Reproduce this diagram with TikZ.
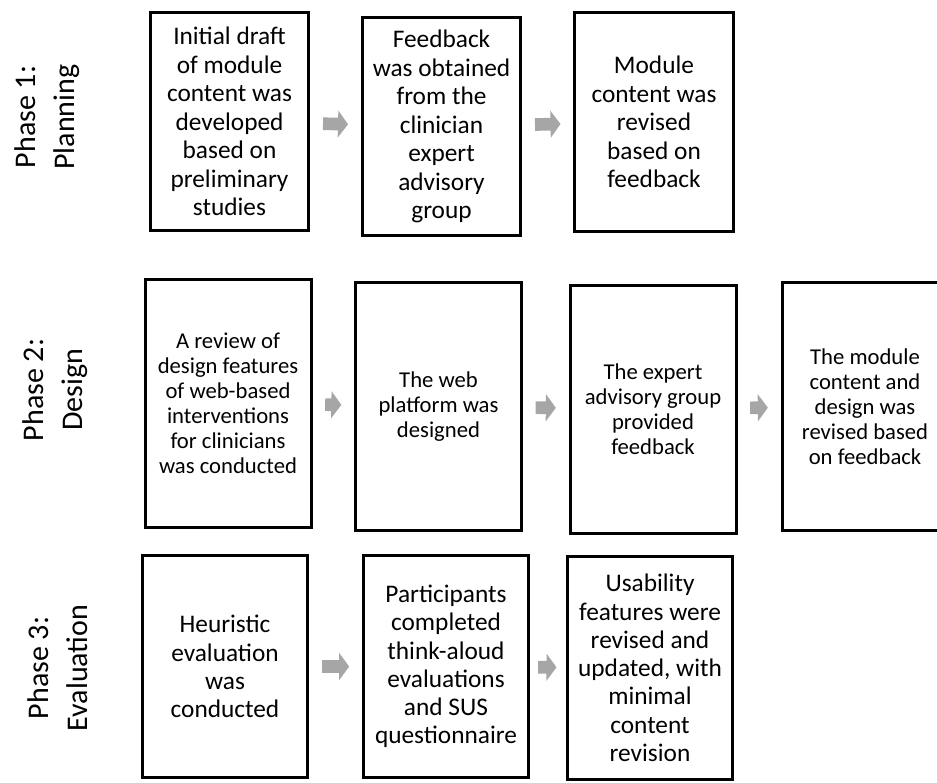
\documentclass[tikz,border=0pt]{standalone}
\usepackage{fontspec}
\setmainfont{Carlito}
\usetikzlibrary{arrows.meta}
\definecolor{arrowgray}{HTML}{A6A6A6}

\begin{document}
\begin{tikzpicture}[x=0.75pt, y=-0.75pt,
    stagebox/.style={draw, line width=2.25pt, align=center, inner sep=2pt},
    planbox/.style={stagebox, minimum width=119pt, minimum height=164pt, font=\fontsize{19}{21.4}\selectfont},
    designbox/.style={stagebox, minimum width=124.5pt, minimum height=186pt, font=\fontsize{17}{18.8}\selectfont},
    evalbox/.style={stagebox, minimum width=124pt, minimum height=167pt, font=\fontsize{19}{21.2}\selectfont},
    phaselabel/.style={rotate=90, align=center, font=\fontsize{22.5}{29}\selectfont},
    flowarrow/.style={draw=arrowgray, line width=9.5pt, -{Triangle[length=7.5pt, width=20pt]}, shorten <=9.5pt, shorten >=9.5pt}]
            \useasboundingbox (0,0) rectangle (937,782);

            % Phase 1
            \node[phaselabel] (phase1) at (47,117) {Phase 1:\\Planning};
            \node[planbox] (plan1) at (229.5,121.5) {Initial draft\\of module\\content was\\developed\\based on\\preliminary\\studies};
            \node[planbox] (plan2) at (441.5,126.5) {Feedback\\was obtained\\from the\\clinician\\expert\\advisory\\group};
            \node[planbox] (plan3) at (654,122) {Module\\content was\\revised\\based on\\feedback};
            \draw[flowarrow] (plan1) -- (plan2);
            \draw[flowarrow] (plan2) -- (plan3);

            % Phase 2
            \node[phaselabel] (phase2) at (55,390) {Phase 2:\\Design};
            \node[designbox] (design1) at (228,403) {A review of\\design features\\of web-based\\interventions\\for clinicians\\was conducted};
            \node[designbox] (design2) at (438.5,406.5) {The web\\platform was\\designed};
            \node[designbox] (design3) at (653,409) {The expert\\advisory group\\provided\\feedback};
            \node[designbox] (design4) at (865,406.5) {The module\\content and\\design was\\revised based\\on feedback};
            \draw[flowarrow] (design1) -- (design2);
            \draw[flowarrow] (design2) -- (design3);
            \draw[flowarrow] (design3) -- (design4);

            % Phase 3
            \node[phaselabel] (phase3) at (58,668) {Phase 3:\\Evaluation};
            \node[evalbox] (eval1) at (225,666.5) {Heuristic\\evaluation\\was\\conducted};
            \node[evalbox] (eval2) at (446,666.5) {Participants\\completed\\think-aloud\\evaluations\\and SUS\\questionnaire};
            \node[evalbox] (eval3) at (650,668) {Usability\\features were\\revised and\\updated, with\\minimal\\content\\revision};
            \draw[flowarrow] (eval1) -- (eval2);
            \draw[flowarrow, shorten <=6pt, shorten >=7pt] (eval2) -- (eval3);
        \end{tikzpicture}
\end{document}
